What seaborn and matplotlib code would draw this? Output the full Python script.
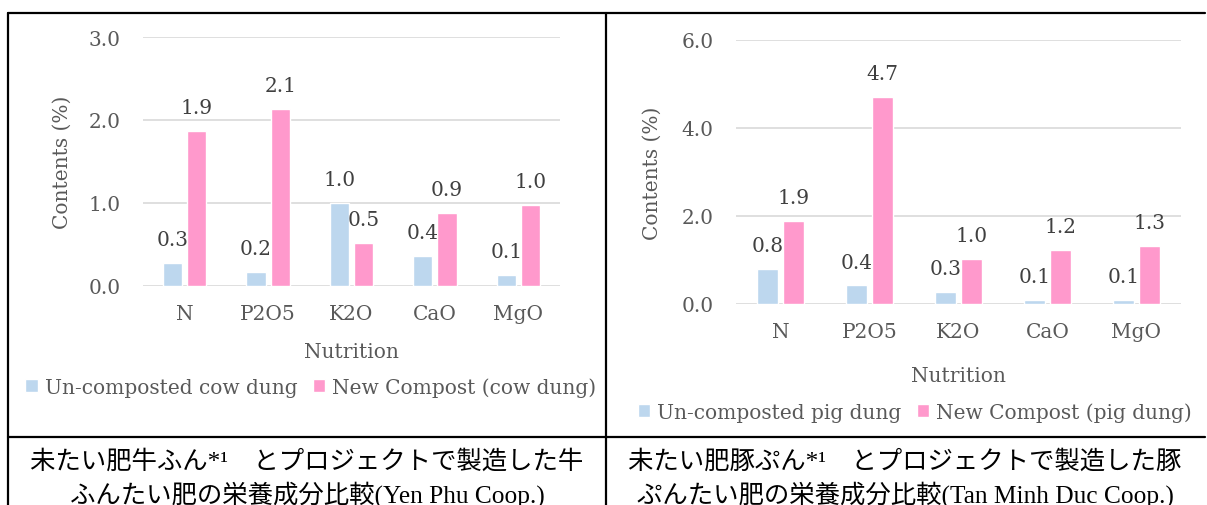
import pandas as pd
import seaborn as sns
import matplotlib.pyplot as plt
from matplotlib.lines import Line2D

# data
nutrients = ["N", "P2O5", "K2O", "CaO", "MgO"]

cow_raw = [0.28, 0.17, 1.00, 0.36, 0.13]
cow_compost = [1.87, 2.13, 0.52, 0.88, 0.98]

pig_raw = [0.80, 0.42, 0.27, 0.09, 0.09]
pig_compost = [1.88, 4.70, 1.02, 1.22, 1.32]

cow_names = ["Un-composted cow dung", "New Compost (cow dung)"]
pig_names = ["Un-composted pig dung", "New Compost (pig dung)"]

caption_cow = ["未たい肥牛ふん*¹　とプロジェクトで製造した牛",
               "ふんたい肥の栄養成分比較(Yen Phu Coop.)"]
caption_pig = ["未たい肥豚ぷん*¹　とプロジェクトで製造した豚",
               "ぷんたい肥の栄養成分比較(Tan Minh Duc Coop.)"]

blue = "#BDD7EE"
pink = "#FF99CC"
grey = "#595959"

sns.set_style("white")
plt.rcParams['font.family'] = ['DejaVu Serif']

W, H = 1207, 506
fig = plt.figure(figsize=(W / 100, H / 100), dpi=100)


def make_df(raw, comp, names):
    return pd.DataFrame({
        "Nutrition": nutrients * 2,
        "Contents": raw + comp,
        "Type": [names[0]] * len(nutrients) + [names[1]] * len(nutrients),
    })


def draw(ax, df, ymax, step, ylab_x, xlab_y, leg_xy):
    sns.barplot(data=df, x="Nutrition", y="Contents", hue="Type",
                palette=[blue, pink], saturation=1, width=0.58, gap=0.2,
                ax=ax, zorder=3)
    ax.set_ylim(0, ymax)
    ax.set_yticks([i * step for i in range(int(round(ymax / step)) + 1)])
    ax.set_yticklabels([f"{t:.1f}" for t in ax.get_yticks()])
    ax.grid(axis="y", color="#D9D9D9", lw=1.2, zorder=0)
    ax.set_axisbelow(True)
    sns.despine(ax=ax, left=True, bottom=True)
    ax.tick_params(axis="both", length=0, labelsize=14.5, labelcolor=grey)
    ax.tick_params(axis="y", pad=16)
    ax.tick_params(axis="x", pad=13)

    for c in ax.containers:
        ax.bar_label(c, fmt="%.1f", padding=10, fontsize=14.5, color="#404040")

    ax.set_ylabel("Contents (%)", fontsize=14.5, color=grey)
    ax.yaxis.label.set_va("center")
    ax.yaxis.set_label_coords(ylab_x, 0.5)
    ax.set_xlabel("Nutrition", fontsize=14.5, color=grey)
    ax.xaxis.label.set_va("center")
    ax.xaxis.set_label_coords(0.5, xlab_y)

    ax.legend(loc="center", bbox_to_anchor=leg_xy, ncol=2, frameon=False,
              fontsize=14.5, labelcolor=grey, handlelength=0.6,
              handleheight=0.6, handletextpad=0.35, columnspacing=0.8,
              title=None)


# left chart (cow dung)
ax1 = fig.add_axes([143 / W, 1 - 287 / H, 417 / W, 249 / H])
draw(ax1, make_df(cow_raw, cow_compost, cow_names), 3.0, 1.0,
     -0.194, -0.265, (0.403, -0.406))

# right chart (pig dung)
ax2 = fig.add_axes([736 / W, 1 - 305 / H, 445 / W, 264.3 / H])
draw(ax2, make_df(pig_raw, pig_compost, pig_names), 6.0, 2.0,
     -0.189, -0.272, (0.402, -0.409))

# table borders
lw = 1.6
top = 1 - 14 / H
mid = 1 - 438 / H
x0, xm, x1 = 8 / W, 606 / W, 1205 / W
for xs, ys in [((x0, x1), (top, top)), ((x0, x1), (mid, mid)),
               ((x0, x0), (0, top)), ((xm, xm), (0, top))]:
    fig.add_artist(Line2D(xs, ys, color="black", lw=lw))

# captions
cap_font = ['Liberation Serif', 'Noto Sans CJK JP']
for cx, lines in [(307 / W, caption_cow), (905 / W, caption_pig)]:
    fig.text(cx, 1 - 462 / H, lines[0], ha="center", va="center",
             fontsize=18.3, family=cap_font, color="black")
    fig.text(cx, 1 - 495 / H, lines[1], ha="center", va="center",
             fontsize=18.3, family=cap_font, color="black")

fig.savefig("out.png", dpi=100)
